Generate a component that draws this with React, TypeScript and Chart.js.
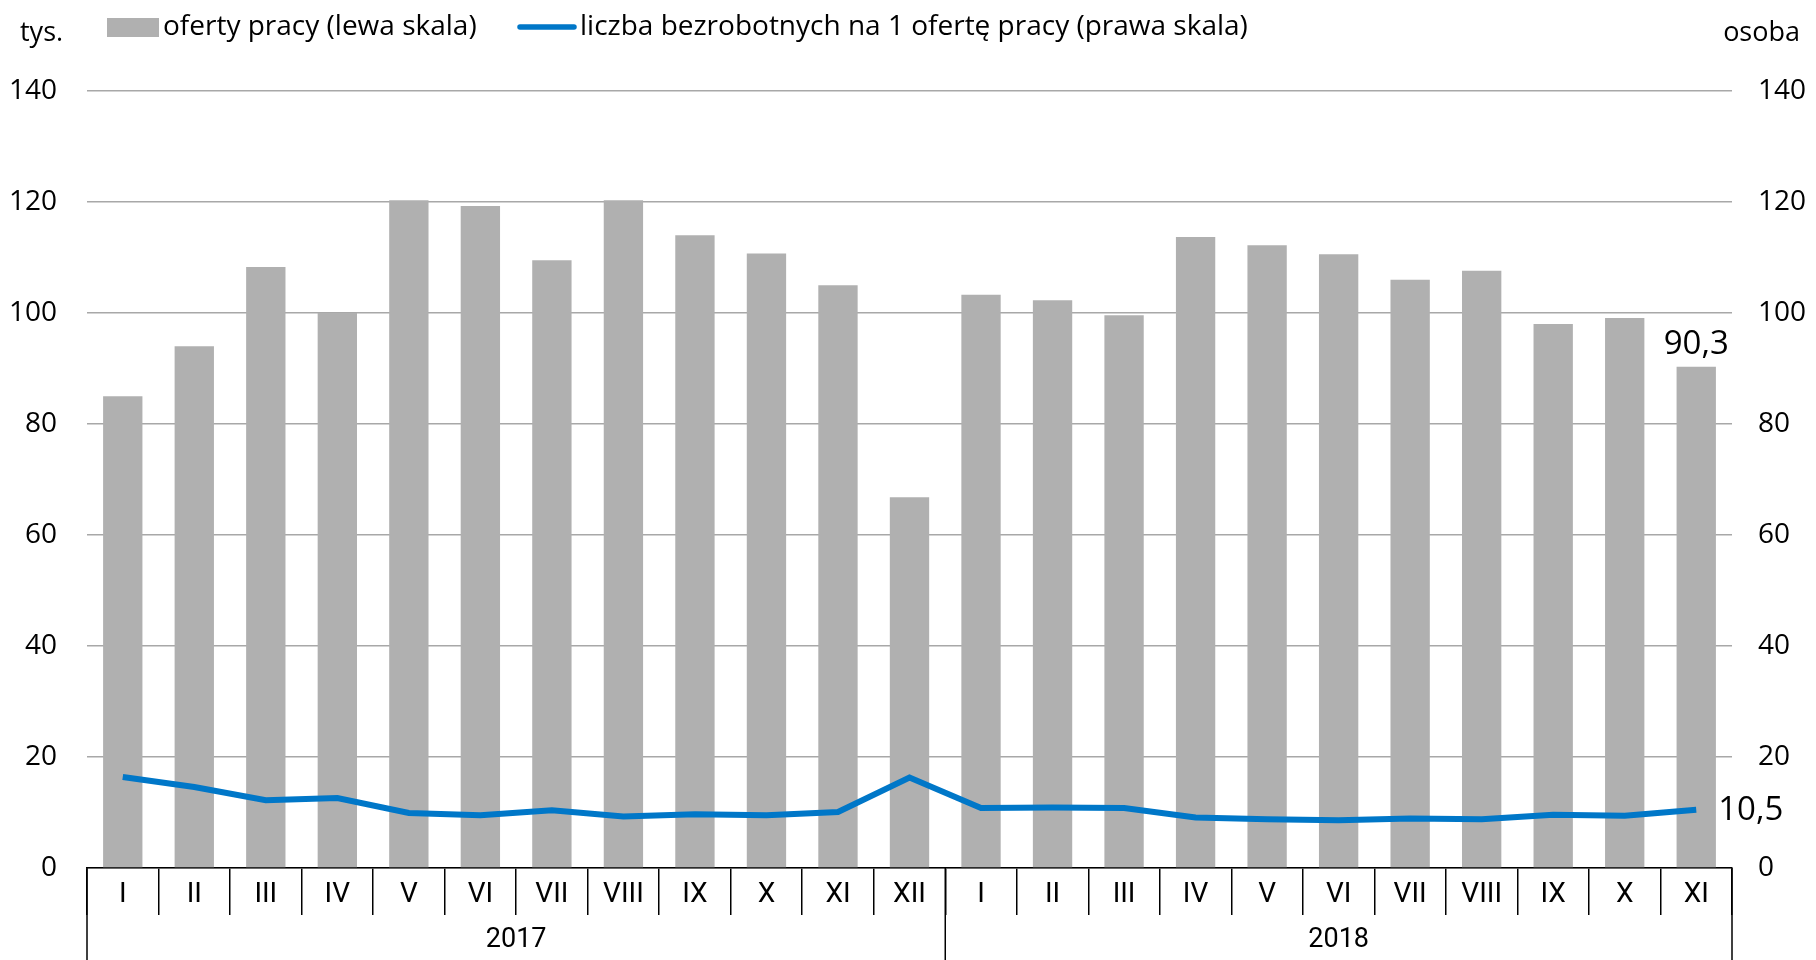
import React, { useEffect, useRef } from "react";
import { Chart, registerables } from "chart.js";

Chart.register(...registerables);

const months = ["I","II","III","IV","V","VI","VII","VIII","IX","X","XI","XII","I","II","III","IV","V","VI","VII","VIII","IX","X","XI"];
const years = ["2017", "2018"];
const yearLengths = [12, 11];
const jobOffers = [85, 94, 108.3, 100, 120.3, 119.3, 109.5, 120.3, 114, 110.7, 105, 66.8, 103.3, 102.3, 99.6, 113.7, 112.2, 110.6, 106, 107.6, 98, 99.1, 90.3];
const unemployedPerOffer = [16.4, 14.6, 12.2, 12.6, 9.9, 9.5, 10.4, 9.3, 9.7, 9.5, 10.1, 16.3, 10.8, 10.9, 10.8, 9.1, 8.8, 8.6, 8.9, 8.8, 9.6, 9.4, 10.5];
const yTicks = [0, 20, 40, 60, 80, 100, 120, 140];
const legendLabels = ["oferty pracy (lewa skala)", "liczba bezrobotnych na 1 ofertę pracy (prawa skala)"];

const FONT = "'Open Sans', 'Noto Sans', sans-serif";
const MONTH_FONT = "Roboto, 'Open Sans', sans-serif";
const BAR = "#b0b0b0";
const BLUE = "#0077c8";

const fmt = (v: number) => v.toFixed(1).replace(".", ",");

const overlay = {
  id: "overlay",
  afterDraw(chart: any) {
    const ctx = chart.ctx;
    const area = chart.chartArea;
    const xs = chart.scales.x;
    ctx.save();
    ctx.fillStyle = "#000";
    ctx.font = `27px ${FONT}`;
    ctx.textBaseline = "middle";
    ctx.textAlign = "left";
    ctx.fillText("tys.", 20, 33);
    ctx.textAlign = "right";
    ctx.fillText("osoba", 1800, 33);
    // legend
    ctx.font = `28px ${FONT}`;
    ctx.textAlign = "left";
    ctx.fillStyle = BAR;
    ctx.fillRect(107, 18, 52, 19);
    ctx.fillStyle = "#000";
    ctx.fillText(legendLabels[0], 163, 27);
    ctx.strokeStyle = BLUE;
    ctx.lineWidth = 5.5;
    ctx.lineCap = "round";
    ctx.beginPath();
    ctx.moveTo(520, 27);
    ctx.lineTo(574, 27);
    ctx.stroke();
    ctx.fillText(legendLabels[1], 580, 27);
    // year row
    const step = (area.right - area.left) / months.length;
    ctx.strokeStyle = "#000";
    ctx.lineWidth = 1.5;
    ctx.lineCap = "butt";
    let idx = 0;
    const bounds: number[] = [area.left];
    ctx.font = `27px ${MONTH_FONT}`;
    years.forEach((y, i) => {
      const start = xs.getPixelForValue(idx) - step / 2;
      idx += yearLengths[i];
      const end = xs.getPixelForValue(idx - 1) + step / 2;
      bounds.push(end);
      ctx.textAlign = "center";
      ctx.fillStyle = "#000";
      ctx.fillText(y, (start + end) / 2, 940);
    });
    bounds.forEach((bx) => {
      ctx.beginPath();
      ctx.moveTo(bx, area.bottom);
      ctx.lineTo(bx, 960);
      ctx.stroke();
    });
    // data labels
    ctx.font = `33px ${FONT}`;
    const last = months.length - 1;
    const barMeta = chart.getDatasetMeta(1);
    const lineMeta = chart.getDatasetMeta(0);
    const b = barMeta.data[last];
    ctx.textAlign = "center";
    ctx.textBaseline = "bottom";
    ctx.fillText(fmt(jobOffers[last]), b.x, b.y - 6);
    const p = lineMeta.data[last];
    ctx.textAlign = "left";
    ctx.textBaseline = "middle";
    ctx.fillText(fmt(unemployedPerOffer[last]), p.x + 22, p.y + 1);
    ctx.restore();
  },
};

export default function App() {
  const ref = useRef<HTMLCanvasElement>(null);
  useEffect(() => {
    if (!ref.current) return;
    const chart = new Chart(ref.current, {
      type: "bar",
      data: {
        labels: months,
        datasets: [
          {
            type: "line",
            label: legendLabels[1],
            data: unemployedPerOffer,
            yAxisID: "y1",
            borderColor: BLUE,
            backgroundColor: BLUE,
            borderWidth: 6,
            pointRadius: 0,
            tension: 0,
            order: 0,
          } as any,
          {
            type: "bar",
            label: legendLabels[0],
            data: jobOffers,
            yAxisID: "y",
            backgroundColor: BAR,
            categoryPercentage: 1,
            barPercentage: 0.55,
            order: 1,
          },
        ],
      },
      options: {
        responsive: false,
        animation: false,
        layout: { padding: { top: 91, bottom: 0, left: 0, right: 0 } },
        plugins: { legend: { display: false }, tooltip: { enabled: false } },
        scales: {
          x: {
            grid: {
              display: true,
              drawOnChartArea: false,
              offset: true,
              tickLength: 47,
              color: "#000",
              lineWidth: 1.5,
            },
            border: { display: true, color: "#000", width: 1.5 },
            ticks: {
              color: "#000",
              font: { family: MONTH_FONT, size: 28 },
              padding: -37,
              maxRotation: 0,
              autoSkip: false,
            },
            afterFit: (s: any) => { s.height = 92; },
          },
          y: {
            position: "left",
            min: 0,
            max: 140,
            afterBuildTicks: (s: any) => { s.ticks = yTicks.map((v) => ({ value: v })); },
            grid: { color: "#a8a8a8", lineWidth: 1.5, drawTicks: false },
            border: { display: false },
            ticks: { color: "#000", font: { family: FONT, size: 28 }, padding: 30 },
            afterFit: (s: any) => { s.width = 87; },
          },
          y1: {
            position: "right",
            min: 0,
            max: 140,
            afterBuildTicks: (s: any) => { s.ticks = yTicks.map((v) => ({ value: v })); },
            grid: { display: false, drawTicks: false },
            border: { display: false },
            ticks: { color: "#000", font: { family: FONT, size: 28 }, padding: 26 },
            afterFit: (s: any) => { s.width = 84; },
          },
        },
      },
      plugins: [overlay],
    });
    return () => chart.destroy();
  }, []);
  return (
    <div style={{ position: "fixed", left: 0, top: 0, width: 1816, height: 960, background: "#fff" }}>
      <canvas ref={ref} width={1816} height={960} style={{ display: "block" }} />
    </div>
  );
}
